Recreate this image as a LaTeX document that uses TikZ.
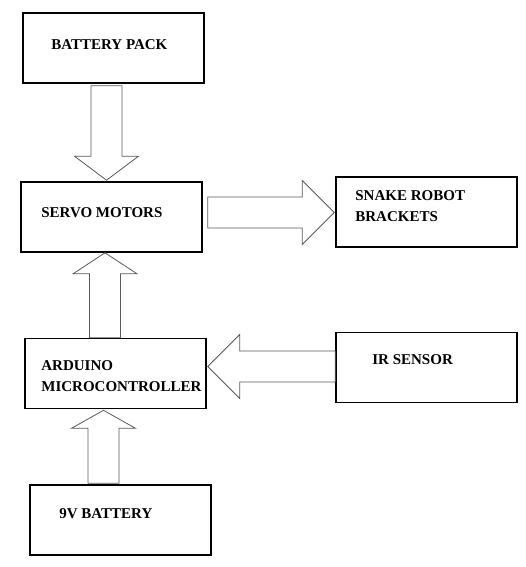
\documentclass[tikz,border=0pt]{standalone}
\usepackage{fontspec}
\setmainfont{Liberation Serif}
\usetikzlibrary{positioning, calc}

\begin{document}
\begin{tikzpicture}[
x=1pt, y=1pt,
box/.style={
draw,
line width=1.6pt,
minimum width=181pt,
minimum height=70pt,
inner sep=0pt
},
lbl/.style={anchor=base west, inner sep=0pt, align=left,
font=\bfseries\fontsize{15}{21}\selectfont},
fat/.style={draw=black!65, line width=0.8pt, fill=white,
to path={let \p1=($(\tikztotarget)!#1!(\tikztostart)$) in
($(\tikztostart)!15.5pt!90:(\tikztotarget)$) --
($(\p1)!15.5pt!90:(\tikztotarget)$) --
($(\p1)!32pt!90:(\tikztotarget)$) --
(\tikztotarget) --
($(\p1)!32pt!-90:(\tikztotarget)$) --
($(\p1)!15.5pt!-90:(\tikztotarget)$) --
($(\tikztostart)!15.5pt!-90:(\tikztotarget)$) -- cycle}}
]

\useasboundingbox (0,0) rectangle (525,-567);

\node[box] (pack) at (113.5,-48) {};
\node[box] (servo) at (111.5,-217) {};
\node[box] (snake) at (426.5,-212) {};
\node[box] (uno) at (115.5,-373.5) {};
\node[box] (ir) at (426.5,-367.5) {};
\node[box] (nine) at (120.5,-520) {};

% base of the last line for two-line labels
\node[lbl] (pack-t) at ($(pack.north west)+(29,-37)$) {BATTERY PACK};
\node[lbl] (servo-t) at ($(servo.north west)+(21,-36)$) {SERVO MOTORS};
\node[lbl] (snake-t) at ($(snake.north west)+(20,-45)$) {SNAKE ROBOT\\BRACKETS};
\node[lbl] (uno-t) at ($(uno.north west)+(17,-54)$) {ARDUINO\\MICROCONTROLLER};
\node[lbl] (ir-t) at ($(ir.north west)+(37,-33)$) {IR SENSOR};
\node[lbl] (nine-t) at ($(nine.north west)+(30,-34)$) {9V BATTERY};

% ends of the fat arrows
\coordinate (pack-out) at ($(pack.south)+(-7,-2)$);
\coordinate (servo-in) at ($(servo.north)+(-5,1)$);
\coordinate (servo-out) at ($(servo.east)+(5,4.5)$);
\coordinate (snake-in) at ($(snake.west)+(-1,-0.5)$);
\coordinate (uno-out) at ($(uno.north)+(-10.5,0)$);
\coordinate (servo-bot) at ($(servo.south)+(-6.5,0)$);
\coordinate (ir-out) at ($(ir.west)+(0,1)$);
\coordinate (uno-in) at ($(uno.east)+(1,7)$);
\coordinate (nine-out) at ($(nine.north)+(-17,1)$);
\coordinate (uno-bot) at ($(uno.south)+(-12,-1)$);

\draw[fat=24pt] (pack-out) to (servo-in);
\draw[fat=32pt] (servo-out) to (snake-in);
\draw[fat=21pt] (uno-out) to (servo-bot);
\draw[fat=32pt] (ir-out) to (uno-in);
\draw[fat=18pt] (nine-out) to (uno-bot);

\end{tikzpicture}
\end{document}
